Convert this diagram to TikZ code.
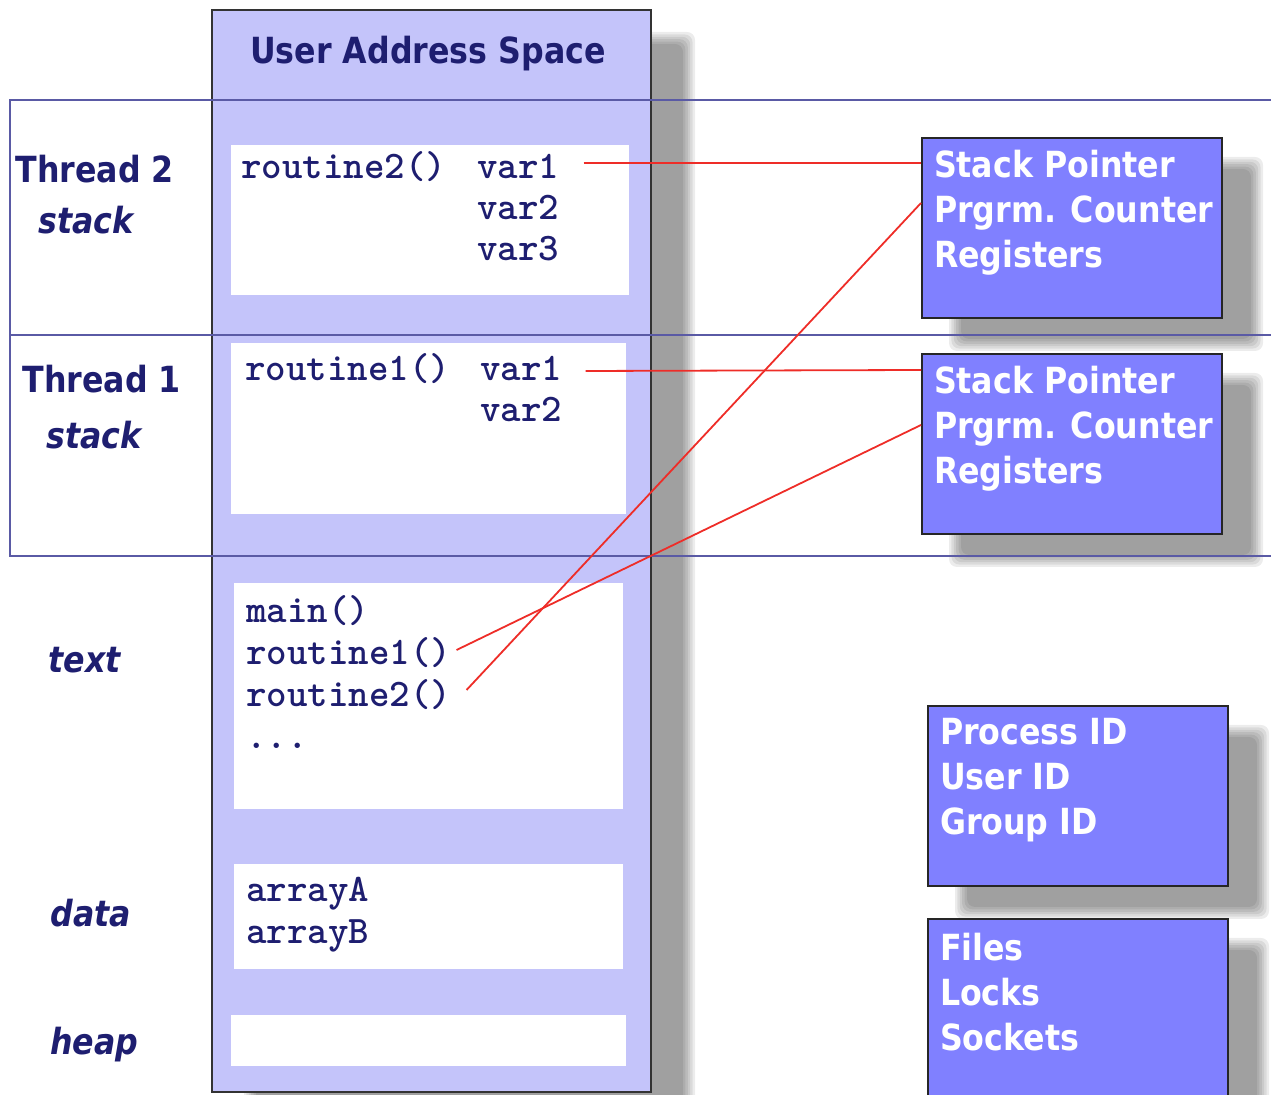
\documentclass[tikz,border=0pt]{standalone}
\usepackage{fontspec}
\newfontfamily\lblfont{DejaVu Sans}[FakeStretch=0.88]

\definecolor{navy}{RGB}{30,30,112}
\definecolor{lavender}{RGB}{196,196,250}
\definecolor{regblue}{RGB}{128,128,255}
\definecolor{bandline}{RGB}{90,90,165}
\definecolor{linkred}{RGB}{238,45,40}

\pgfdeclarelayer{bg}
\pgfsetlayers{bg,main}

% soft grey shadow between two corners, shifted by #3, #4
\newcommand{\softshadow}[4]{%
  \foreach \k in {0,...,5}{
    \fill[black, opacity=0.075, rounded corners=4pt]
      ([shift={({#3-3pt+\k*1.2pt},{-#4+3pt-\k*1.2pt})}]#1) rectangle
      ([shift={({#3+3pt-\k*1.2pt},{-#4-3pt+\k*1.2pt})}]#2);}}
\newcommand{\boxtext}[1]{\parbox[t][78pt][t]{138pt}{\raggedright #1}}

\begin{document}
\begin{tikzpicture}[x=0.5pt, y=-0.5pt,
    lbl/.style={font={\lblfont\fontsize{18}{22}\selectfont\bfseries}, text=navy, anchor=base west, inner sep=0pt},
    slbl/.style={lbl, font={\lblfont\fontsize{18}{22}\selectfont\bfseries\itshape}},
    code/.style={font={\ttfamily\bfseries\fontsize{19.5}{22}\selectfont}, text=navy, anchor=base west, inner sep=0pt},
    memseg/.style={fill=white},
    band/.style={draw=bandline, line width=0.8pt},
    regbox/.style={draw=black!85, line width=1pt, fill=regblue, text=white, anchor=north west,
      minimum width=150pt, minimum height=90pt, inner xsep=6pt, inner ysep=0pt,
      font={\lblfont\fontsize{18}{22.5}\selectfont\bfseries}},
    link/.style={linkred, line width=0.9pt}]
    \useasboundingbox (0,0) rectangle (1271,1095);

    % user address space
    \coordinate (cnw) at (212,10);
    \coordinate (cse) at (651,1092);
    \draw[fill=lavender, draw=black!80, line width=1pt] (cnw) rectangle (cse);
    \draw[band] (1271,100) -- (10,100) -- (10,556) -- (1271,556);
    \draw[band] (10,335) -- (1271,335);

    \fill[memseg] (231,145) rectangle (629,295);
    \fill[memseg] (231,343) rectangle (626,514);
    \fill[memseg] (234,583) rectangle (623,809);
    \fill[memseg] (234,864) rectangle (623,969);
    \fill[memseg] (231,1015) rectangle (626,1066);

    \node[lbl, anchor=base] (uas) at (428,64) {User Address Space};
    \node[lbl] (th2) at (15,183) {Thread 2};
    \node[slbl] (st2) at (38,234) {stack};
    \node[lbl] (th1) at (22,393) {Thread 1};
    \node[slbl] (st1) at (46,449) {stack};
    \node[slbl] (txt) at (48,673) {text};
    \node[slbl] (dat) at (50,927) {data};
    \node[slbl] (hp) at (50,1055) {heap};

    % thread stacks
    \node[code] (t2r) at (241,179) {routine2()};
    \foreach \i in {1,2,3}
        \node[code] (t2v\i) at (477,{138+41*\i}) {var\i};
    \node[code] (t1r) at (245,381) {routine1()};
    \foreach \i in {1,2}
        \node[code] (t1v\i) at (480,{340+41*\i}) {var\i};

    % text and data
    \foreach \fn [count=\i] in {main(),routine1(),routine2()}
        \node[code] (tx\i) at (246,{581+42*\i}) {\fn};
    \node[code] (tx4) at (246,749) {...};
    \node[code] (arA) at (246,902) {arrayA};
    \node[code] (arB) at (246,944) {arrayB};

    % per thread and per process state
    \node[regbox] (sp1) at (921,137) {\boxtext{Stack Pointer\\\mbox{Prgrm. Counter}\\Registers}};
    \node[regbox] (sp2) at (921,353) {\boxtext{Stack Pointer\\\mbox{Prgrm. Counter}\\Registers}};
    \node[regbox] (ids) at (927,705) {\boxtext{Process ID\\User ID\\Group ID}};
    \node[regbox, minimum height=92pt] (res) at (927,918) {\boxtext{Files\\Locks\\Sockets}};

    \begin{pgfonlayer}{bg}
        \softshadow{cnw}{cse}{19pt}{14pt}
        \foreach \b in {sp1,sp2,ids,res}{
            \softshadow{\b.north west}{\b.south east}{17pt}{13pt}}
    \end{pgfonlayer}

    \draw[link] ([shift={(12pt,8pt)}]t2v1.base east) -- ([yshift=-13pt]sp1.north west);
    \draw[link] ([shift={(11.5pt,5pt)}]t1v1.base east) -- ([yshift=-8.5pt]sp2.north west);
    \draw[link] ([shift={(2.5pt,7.5pt)}]tx2.base east) -- ([yshift=-36pt]sp2.north west);
    \draw[link] ([shift={(7.5pt,8.5pt)}]tx3.base east) -- ([yshift=-33pt]sp1.north west);
\end{tikzpicture}
\end{document}
